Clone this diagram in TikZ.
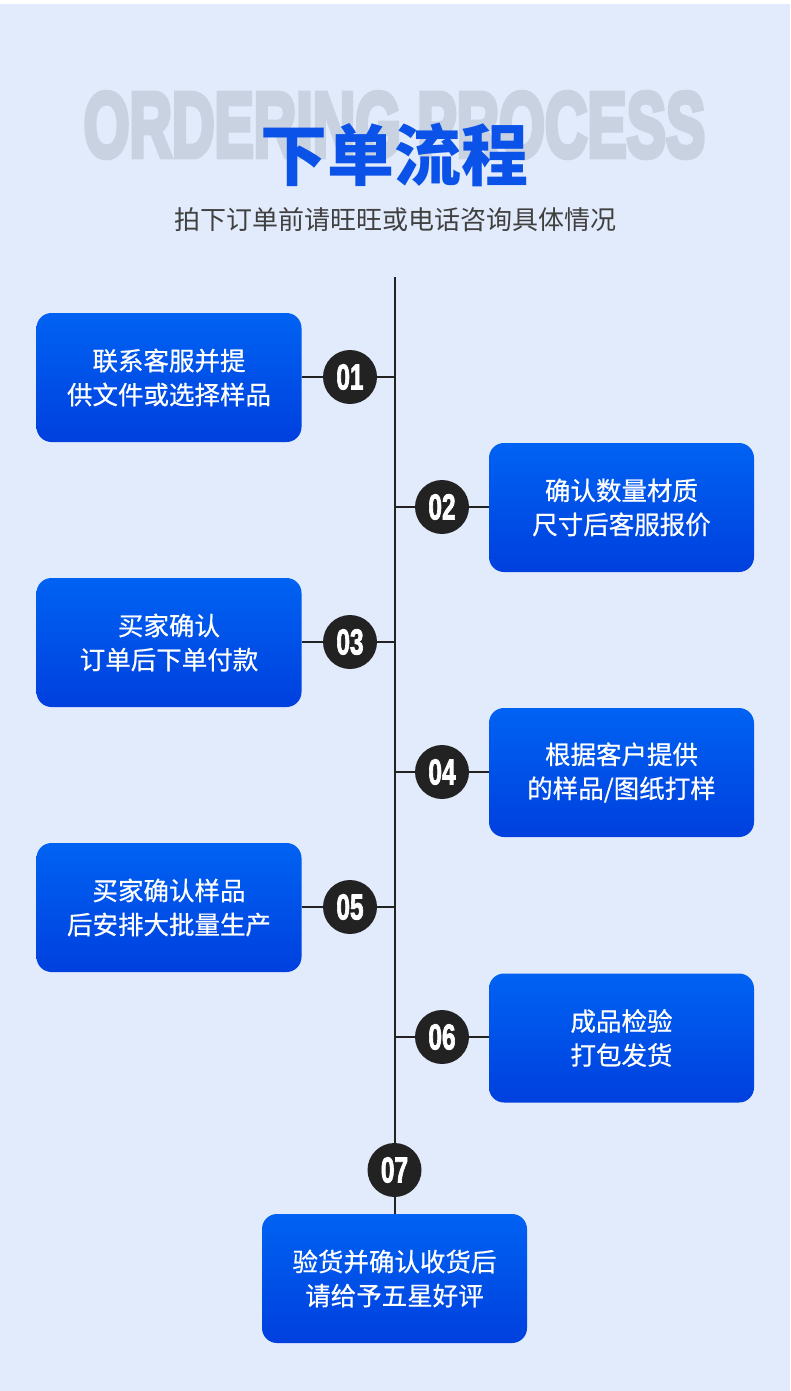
\documentclass[tikz,border=0pt]{standalone}
\usepackage{fontspec}
\setmainfont{Liberation Sans}
\newfontfamily\cjk{Noto Sans CJK SC}
\newfontfamily\cjkmed[FakeBold=0.6]{Noto Sans CJK SC}
\newfontfamily\ghostfont[FakeBold=6]{Liberation Sans Bold}
\newfontfamily\numfont[FakeBold=2.5]{Liberation Sans Bold}
\usetikzlibrary{backgrounds}
\definecolor{bg}{HTML}{E2EBFC}
\definecolor{boxtop}{HTML}{0062F3}
\definecolor{boxbot}{HTML}{0040DE}
\definecolor{titleblue}{HTML}{0A52E8}
\definecolor{ghost}{HTML}{C9D2E1}
\definecolor{subgrey}{HTML}{404040}
\definecolor{linecol}{HTML}{222222}
\tikzset{
  stepbox/.style={rectangle, rounded corners=15pt, minimum width=265pt, minimum height=129pt,
    top color=boxtop, bottom color=boxbot, draw=none, text=white, align=center,
    font=\cjkmed\fontsize{25.5}{34}\selectfont},
  numdot/.style={circle, fill=linecol, minimum size=54pt, inner sep=0pt, text=white,
    font=\numfont\fontsize{36}{36}\selectfont},
  conn/.style={draw=linecol, line width=2pt}
}
\newcommand{\stepnum}[1]{\scalebox{0.68}[1]{#1}}
\begin{document}
\begin{tikzpicture}[x=1pt,y=-1pt]
\useasboundingbox (0,0) rectangle (790,1391);

% header texts
\node[text=ghost, font=\ghostfont\fontsize{92}{92}\selectfont, inner sep=0pt] (ghosttxt) at (394.5,125) {\scalebox{0.64}[1]{ORDERING PROCESS}};
\node[text=titleblue, font=\cjk\bfseries\fontsize{67}{67}\selectfont, inner sep=0pt] (title) at (394.5,155) {下单流程};
\node[text=subgrey, font=\cjk\fontsize{26}{26}\selectfont, inner sep=0pt] (subtitle) at (395,220) {拍下订单前请旺旺或电话咨询具体情况};

% boxes
\node[stepbox] (b1) at (169,377.5) {联系客服并提\\供文件或选择样品};
\node[stepbox] (b2) at (621.5,507.5) {确认数量材质\\尺寸后客服报价};
\node[stepbox] (b3) at (169,642.5) {买家确认\\订单后下单付款};
\node[stepbox] (b4) at (621.5,772.5) {根据客户提供\\的样品/图纸打样};
\node[stepbox] (b5) at (169,907.5) {买家确认样品\\后安排大批量生产};
\node[stepbox] (b6) at (621.5,1038) {成品检验\\打包发货};
\node[stepbox] (b7) at (394.5,1278.5) {验货并确认收货后\\请给予五星好评};

% number circles
\node[numdot] (c1) at (350,377) {\stepnum{01}};
\node[numdot] (c2) at (442,507) {\stepnum{02}};
\node[numdot] (c3) at (350,642) {\stepnum{03}};
\node[numdot] (c4) at (442,772) {\stepnum{04}};
\node[numdot] (c5) at (350,907) {\stepnum{05}};
\node[numdot] (c6) at (442,1037) {\stepnum{06}};
\node[numdot] (c7) at (394.5,1170) {\stepnum{07}};

\coordinate (top) at (394.5,277);

\begin{scope}[on background layer]
  \fill[white] (0,0) rectangle (790,4);
  \fill[bg] (0,4) rectangle (790,1391);
  \draw[conn] (top) -- (b7.north);
  \draw[conn] (b1.east |- c1) -- (c1 -| top);
  \draw[conn] (c2 -| top) -- (b2.west |- c2);
  \draw[conn] (b3.east |- c3) -- (c3 -| top);
  \draw[conn] (c4 -| top) -- (b4.west |- c4);
  \draw[conn] (b5.east |- c5) -- (c5 -| top);
  \draw[conn] (c6 -| top) -- (b6.west |- c6);
\end{scope}
\end{tikzpicture}
\end{document}
